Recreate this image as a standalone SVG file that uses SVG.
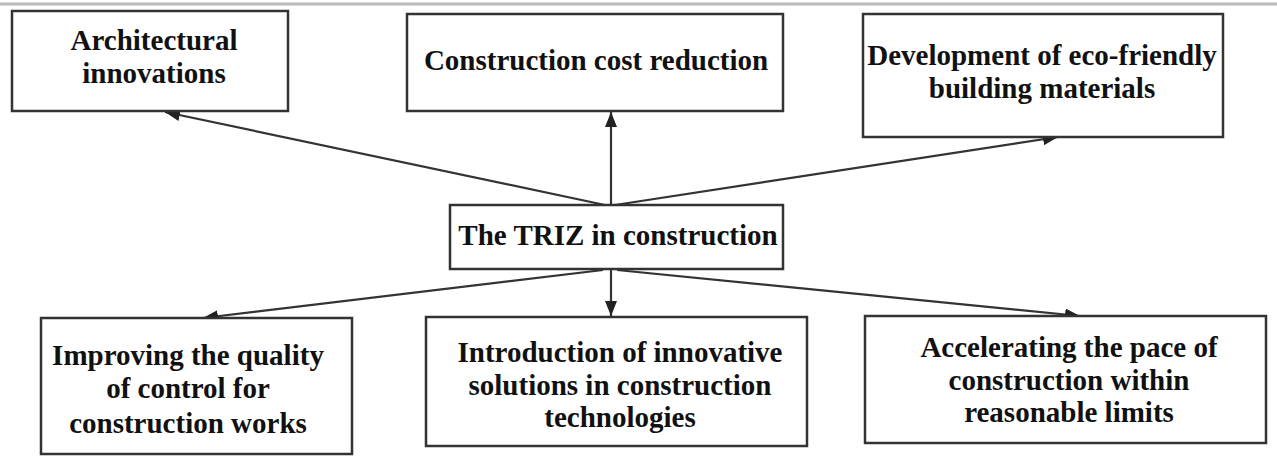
<svg xmlns="http://www.w3.org/2000/svg" width="1277" height="457" viewBox="0 0 1277 457">
<style>
.box{fill:#fff;stroke:#333;stroke-width:2.5}
.lbl{font-family:"Liberation Serif","Times New Roman",serif;font-weight:bold;font-size:29px;fill:#111;text-anchor:middle}
.con{stroke:#333;stroke-width:2.2;fill:none;marker-end:url(#ah)}
</style>
<defs>
<marker id="ah" markerUnits="userSpaceOnUse" markerWidth="16" markerHeight="12" refX="15" refY="6" orient="auto">
<path d="M0,0 L15,6 L0,12 Z" fill="#222"/>
</marker>
</defs>
<rect width="1277" height="457" fill="#fff"/>
<line x1="0" y1="4" x2="1277" y2="4" stroke="#bbb" stroke-width="3"/>
<g id="connectors">
<line class="con" x1="605" y1="205" x2="165" y2="112"/>
<line class="con" x1="611" y1="205" x2="611" y2="112"/>
<line class="con" x1="615" y1="205" x2="1058" y2="137"/>
<line class="con" x1="603" y1="270" x2="203" y2="318"/>
<line class="con" x1="611" y1="270" x2="611" y2="316"/>
<line class="con" x1="617" y1="270" x2="1080" y2="316"/>
</g>
<g id="n-arch">
<rect class="box" x="12" y="11" width="276" height="100"/>
<text class="lbl" x="154" y="50">Architectural</text>
<text class="lbl" x="154" y="83">innovations</text>
</g>
<g id="n-cost">
<rect class="box" x="407" y="14" width="376" height="97"/>
<text class="lbl" x="596" y="70">Construction cost reduction</text>
</g>
<g id="n-eco">
<rect class="box" x="863" y="14" width="360" height="123"/>
<text class="lbl" x="1042" y="65">Development of eco-friendly</text>
<text class="lbl" x="1042" y="98">building materials</text>
</g>
<g id="n-triz">
<rect class="box" x="450" y="205" width="333" height="64"/>
<text class="lbl" x="618" y="245">The TRIZ in construction</text>
</g>
<g id="n-quality">
<rect class="box" x="41" y="318" width="311" height="136"/>
<text class="lbl" x="188" y="365">Improving the quality</text>
<text class="lbl" x="188" y="398">of control for</text>
<text class="lbl" x="188" y="433">construction works</text>
</g>
<g id="n-innov">
<rect class="box" x="426" y="317" width="381" height="129"/>
<text class="lbl" x="620" y="362">Introduction of innovative</text>
<text class="lbl" x="620" y="395">solutions in construction</text>
<text class="lbl" x="620" y="427">technologies</text>
</g>
<g id="n-pace">
<rect class="box" x="865" y="316" width="401" height="127"/>
<text class="lbl" x="1069" y="357">Accelerating the pace of</text>
<text class="lbl" x="1069" y="390">construction within</text>
<text class="lbl" x="1069" y="422">reasonable limits</text>
</g>
</svg>
